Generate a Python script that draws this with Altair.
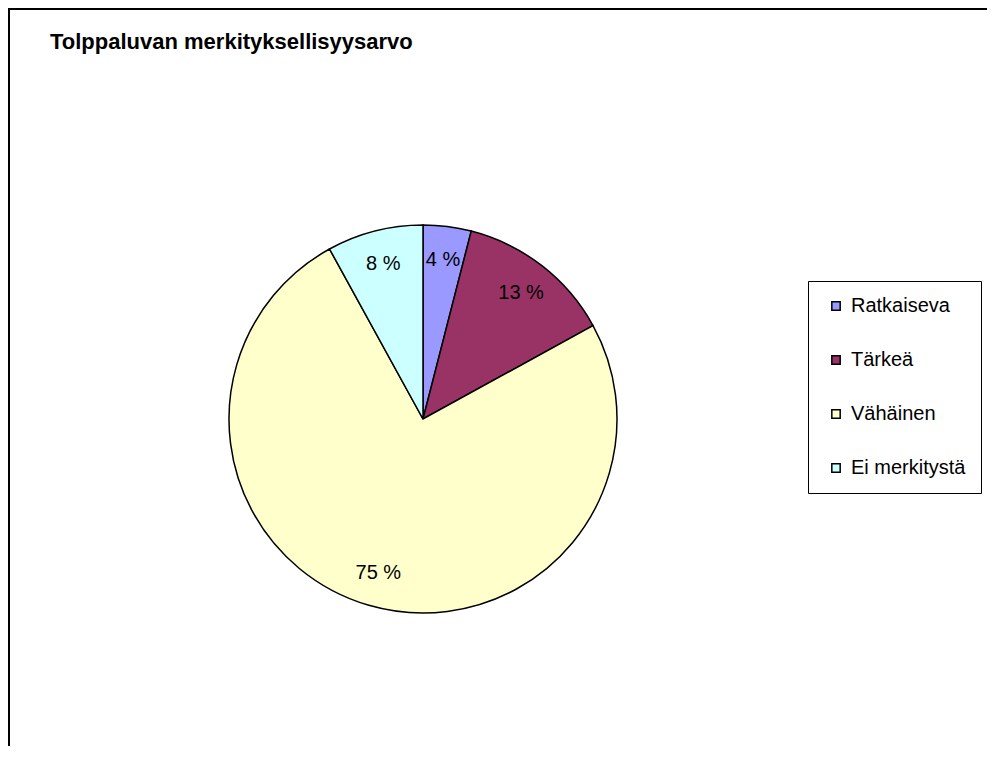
import altair as alt
import pandas as pd

categories = ["Ratkaiseva", "Tärkeä", "Vähäinen", "Ei merkitystä"]
values = [4, 13, 75, 8]
labels = ["4 %", "13 %", "75 %", "8 %"]
colors = ["#9999FF", "#993366", "#FFFFCC", "#CCFFFF"]
title_text = "Tolppaluvan  merkityksellisyysarvo"

df = pd.DataFrame({
    "category": categories,
    "value": values,
    "label": labels,
    "order": list(range(len(categories))),
})

W, H = 979, 738
CX, CY, R = 415, 411, 194
FONT = "Liberation Sans"

base = alt.Chart(df).encode(
    theta=alt.Theta("value:Q", stack=True),
    order=alt.Order("order:Q"),
)

pie = base.mark_arc(stroke="black", strokeWidth=1.5).encode(
    color=alt.Color(
        "category:N",
        scale=alt.Scale(domain=categories, range=colors),
        sort=categories,
        legend=alt.Legend(
            title=None,
            orient="none",
            legendX=800,
            legendY=273,
            padding=15,
            symbolOffset=3,
            strokeColor="black",
            fillColor="white",
            symbolType="square",
            symbolSize=70,
            symbolStrokeColor="black",
            symbolStrokeWidth=1.5,
            labelFont=FONT,
            labelFontSize=20,
            labelColor="black",
            labelOffset=5,
            rowPadding=34,
            labelLimit=300,
        ),
    ),
    x=alt.value(CX),
    y=alt.value(CY),
    radius=alt.value(R),
)

text = base.mark_text(font=FONT, fontSize=20, color="black").encode(
    text="label:N",
    x=alt.value(CX),
    y=alt.value(CY),
    radius=alt.value(160),
)

frame_df = pd.DataFrame({"a": [0]})
left_line = alt.Chart(frame_df).mark_rule(color="black", strokeWidth=2).encode(
    x=alt.value(1), y=alt.value(0), y2=alt.value(H)
)
top_line = alt.Chart(frame_df).mark_rule(color="black", strokeWidth=2).encode(
    y=alt.value(1), x=alt.value(0), x2=alt.value(W)
)

chart = alt.layer(left_line, top_line, pie, text).properties(
    width=W,
    height=H,
    autosize=alt.AutoSizeParams(type="none"),
    padding=0,
    title=alt.TitleParams(
        text=title_text,
        anchor="start",
        frame="group",
        offset=0,
        dx=42,
        dy=64,
        baseline="alphabetic",
        font=FONT,
        fontSize=22,
        fontWeight="bold",
        color="black",
    ),
).configure_view(stroke=None).configure(background="white")

chart.save("out.html", embed_options={"renderer": "svg", "actions": False})
